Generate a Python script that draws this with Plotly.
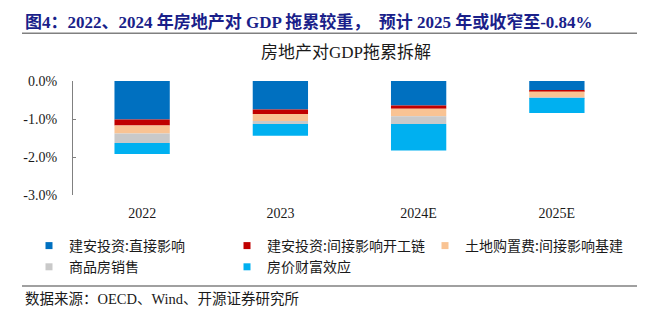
import plotly.graph_objects as go

categories = ["2022", "2023", "2024E", "2025E"]
series_names = ["建安投资:直接影响", "建安投资:间接影响开工链", "土地购置费:间接影响基建", "商品房销售", "房价财富效应"]
direct = [-1.01, -0.75, -0.645, -0.245]
indirect_chain = [-0.16, -0.12, -0.085, -0.03]
land_infra = [-0.21, -0.18, -0.195, -0.15]
housing_sales = [-0.25, -0.08, -0.205, -0.025]
wealth_effect = [-0.29, -0.31, -0.70, -0.39]
colors = ["#0070C0", "#C00000", "#F9C393", "#C9C9C9", "#00B0F0"]
y_tickvals = [0, -1, -2, -3]
y_ticktext = ["0.0%", "-1.0%", "-2.0%", "-3.0%"]
boundaries = [-0.5, 0.5, 1.5, 2.5, 3.5]

title_text = "<b>图4：2022、2024 年房地产对 GDP 拖累较重，  预计 2025 年或收窄至-0.84%</b>"
chart_title = "房地产对GDP拖累拆解"
source_text = "数据来源：OECD、Wind、开源证券研究所"

SERIF = "Liberation Serif, Noto Sans CJK SC"
W, H = 652, 322
L, R, T, B = 73, 26, 81, 127
pw = W - L - R
ph = H - T - B

def px2x(px):
    return (px - L) / pw

def py2y(py):
    return (H - B - py) / ph

fig = go.Figure()
all_series = [direct, indirect_chain, land_infra, housing_sales, wealth_effect]
for name, vals, col in zip(series_names, all_series, colors):
    fig.add_trace(go.Bar(x=categories, y=vals, name=name, marker=dict(color=col, line=dict(width=0)),
                         width=0.4, showlegend=False))
for name, col in zip(series_names, colors):
    fig.add_trace(go.Scatter(x=[None], y=[None], mode="markers", name=name,
                             marker=dict(symbol="square", size=7, color=col)))

fig.update_layout(
    width=W, height=H,
    margin=dict(l=L, r=R, t=T, b=B, autoexpand=False),
    paper_bgcolor="white", plot_bgcolor="white",
    barmode="relative",
    bargap=0.6,
    showlegend=True,
    legend=dict(orientation="h", x=px2x(29), xanchor="left", y=py2y(230), yanchor="top",
                font=dict(family="Noto Sans CJK SC", size=14, color="#1a1a1a"),
                entrywidth=153, bgcolor="rgba(0,0,0,0)", borderwidth=0, traceorder="normal"),
    title=dict(text=title_text, x=25 / W, xanchor="left", xref="container",
               y=1 - 21.7 / H, yanchor="middle", yref="container",
               font=dict(family=SERIF, size=17, color="#1a1f8a")),
    xaxis=dict(type="category", side="bottom", showline=False, ticks="", showgrid=False,
               zeroline=False, tickfont=dict(family=SERIF, size=14, color="#1a1a1a"),
               ticklabelstandoff=8, range=[-0.5, 3.5]),
    xaxis2=dict(overlaying="x", side="top", anchor="y", range=[-0.5, 3.5],
                tickvals=boundaries, ticks="outside", ticklen=4, tickwidth=1.5, tickcolor="#808080",
                showline=True, linecolor="#808080", linewidth=2, showticklabels=False,
                showgrid=False, zeroline=False),
    yaxis=dict(range=[-3, 0], tickvals=y_tickvals, ticktext=y_ticktext, ticks="inside", ticklen=3,
               tickcolor="#808080", showline=True, linecolor="#808080", linewidth=1.3,
               showgrid=False, zeroline=False, ticklabelstandoff=12,
               tickfont=dict(family=SERIF, size=14, color="#1a1a1a")),
)

fig.add_annotation(text=chart_title, xref="paper", yref="paper", x=px2x(346), y=py2y(53),
                   xanchor="center", yanchor="middle", showarrow=False,
                   font=dict(family=SERIF, size=17, color="#1a1a1a"))
fig.add_annotation(text=source_text, xref="paper", yref="paper", x=px2x(23), y=py2y(299),
                   xanchor="left", yanchor="middle", showarrow=False,
                   font=dict(family=SERIF, size=14.5, color="#1a1a1a"))
fig.add_shape(type="line", xref="paper", yref="paper", x0=px2x(22), x1=px2x(637), y0=py2y(33.3), y1=py2y(33.3),
              line=dict(color="#808080", width=1.5))
fig.add_shape(type="line", xref="paper", yref="paper", x0=px2x(22), x1=px2x(637), y0=py2y(286), y1=py2y(286),
              line=dict(color="#808080", width=1.5))

fig.write_html("out.html")
